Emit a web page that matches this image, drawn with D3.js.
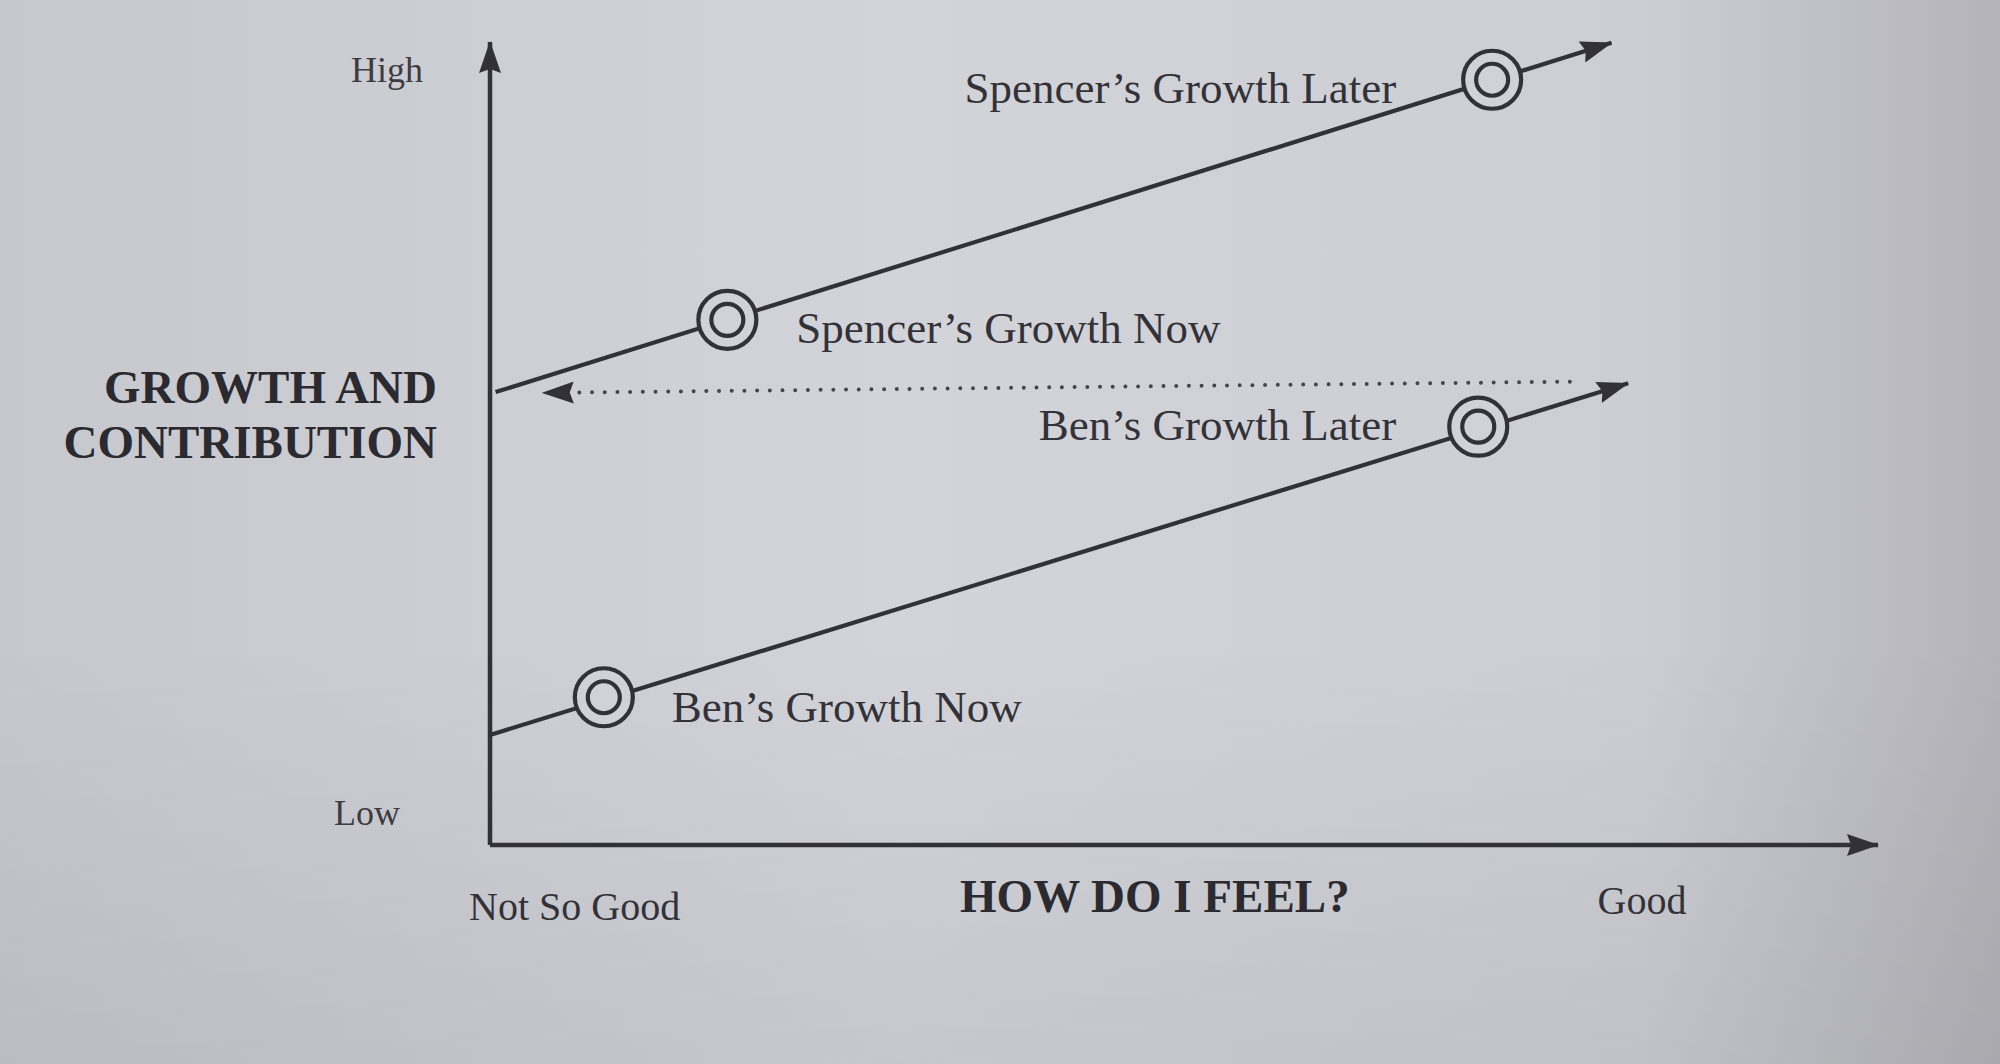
<!DOCTYPE html>
<html lang="en">
<head>
  <meta charset="UTF-8">
  <title>Growth and Contribution</title>
  <script src="https://d3js.org/d3.v7.min.js"></script>
  <style>
    body { margin: 0; background: #cfd0d6; }
    svg { display: block; }
    .ink { fill: #333238; font-family: "Liberation Serif", "Times New Roman", serif; }
    .title { font-weight: bold; fill: #2b2a30; }
  </style>
</head>
<body>
  <svg width="2000" height="1064"></svg>
  <script>
    // axis end labels
    const feelLabels = ["Not So Good", "Good"];
    const growthLabels = ["Low", "High"];
    const xTitle = "HOW DO I FEEL?";
    const yTitle = ["GROWTH AND", "CONTRIBUTION"];

    // lines: [start, arrow tip] in (feel, growth) units 0..10
    const spencerLine = [[0.04, 5.64], [8.08, 9.99]];
    const benLine = [[0, 1.37], [8.2, 5.75]];
    // target markers: [now, later]
    const spencerPoints = [[1.71, 6.54], [7.22, 9.53]];
    const benPoints = [[0.82, 1.84], [7.12, 5.21]];
    const spencerLabels = ["Spencer\u2019s Growth Now", "Spencer\u2019s Growth Later"];
    const benLabels = ["Ben\u2019s Growth Now", "Ben\u2019s Growth Later"];
    // dotted gap arrow, from right to left
    const gapLine = [[7.78, 5.77], [0.38, 5.63]];

    const svg = d3.select("svg");
    const ink = "#323137";
    const paper = "#d1d2d8";

    // paper background, darker toward the right edge
    const defs = svg.append("defs");
    const grad = defs.append("linearGradient").attr("id", "paper");
    grad.append("stop").attr("offset", "0%").attr("stop-color", "#c7c8ce");
    grad.append("stop").attr("offset", "45%").attr("stop-color", "#d3d4da");
    grad.append("stop").attr("offset", "82%").attr("stop-color", "#cdced4");
    grad.append("stop").attr("offset", "100%").attr("stop-color", "#b3b3b9");
    const shade = defs.append("linearGradient").attr("id", "shade")
      .attr("x1", 0).attr("y1", 0).attr("x2", 0).attr("y2", 1);
    shade.append("stop").attr("offset", "60%").attr("stop-color", "#000").attr("stop-opacity", 0);
    shade.append("stop").attr("offset", "100%").attr("stop-color", "#000").attr("stop-opacity", 0.06);

    svg.append("rect").attr("width", 2000).attr("height", 1064).attr("fill", "url(#paper)");
    svg.append("rect").attr("width", 2000).attr("height", 1064).attr("fill", "url(#shade)");

    // arrowhead
    defs.append("marker")
      .attr("id", "head")
      .attr("markerUnits", "userSpaceOnUse")
      .attr("viewBox", "0 0 32 22")
      .attr("refX", 31).attr("refY", 11)
      .attr("markerWidth", 32).attr("markerHeight", 22)
      .attr("orient", "auto")
      .append("path")
      .attr("d", "M0,0 L32,11 L0,22 L4,11 Z")
      .attr("fill", ink);

    const x = d3.scaleLinear().domain([0, 10]).range([490, 1878]);
    const y = d3.scaleLinear().domain([0, 10]).range([845, 42]);
    const line = d3.line().x(d => x(d[0])).y(d => y(d[1]));

    // axes
    svg.append("path")
      .attr("d", line([[0, 0], [0, 10]]))
      .attr("stroke", ink).attr("stroke-width", 4.5).attr("fill", "none")
      .attr("marker-end", "url(#head)");
    svg.append("path")
      .attr("d", line([[0, 0], [10, 0]]))
      .attr("stroke", ink).attr("stroke-width", 4.5).attr("fill", "none")
      .attr("marker-end", "url(#head)");

    // axis end labels
    const g = svg.append("g").attr("class", "ink");
    g.append("text").attr("x", x(0) - 90).attr("y", y(0) - 20)
      .attr("text-anchor", "end").attr("font-size", 36).attr("fill", "#3d3c42")
      .text(growthLabels[0]);
    g.append("text").attr("x", x(0) - 67).attr("y", y(10) + 40)
      .attr("text-anchor", "end").attr("font-size", 36).attr("fill", "#3d3c42")
      .text(growthLabels[1]);
    g.append("text").attr("x", x(0) - 21).attr("y", y(0) + 75)
      .attr("font-size", 40).text(feelLabels[0]);
    g.append("text").attr("x", x(7.98)).attr("y", y(0) + 69)
      .attr("font-size", 40).text(feelLabels[1]);

    // axis titles
    g.append("text").attr("class", "title")
      .attr("x", x(4.79)).attr("y", y(0) + 67)
      .attr("text-anchor", "middle").attr("font-size", 47)
      .text(xTitle);
    g.selectAll(".ytitle").data(yTitle).join("text")
      .attr("class", "title ytitle")
      .attr("x", x(0) - 53).attr("y", (d, i) => 403 + i * 55)
      .attr("text-anchor", "end").attr("font-size", 47)
      .text(d => d);

    // dotted gap arrow
    svg.append("path")
      .attr("d", line(gapLine))
      .attr("stroke", "#46454b").attr("stroke-width", 4)
      .attr("stroke-linecap", "round").attr("stroke-dasharray", "0 12.7")
      .attr("fill", "none")
      .attr("marker-end", "url(#head)");

    // growth lines with target markers
    const series = [
      { line: spencerLine, points: spencerPoints, labels: spencerLabels },
      { line: benLine, points: benPoints, labels: benLabels }
    ];
    // label placement relative to markers: [now, later]
    const labelOffsets = [
      [{ dx: 69, dy: 23, anchor: "start" }, { dx: -96, dy: 23, anchor: "end" }],
      [{ dx: 68, dy: 25, anchor: "start" }, { dx: -82, dy: 13, anchor: "end" }]
    ];

    series.forEach((s, si) => {
      svg.append("path")
        .attr("d", line(s.line))
        .attr("stroke", ink).attr("stroke-width", 4.2)
        .attr("fill", "none")
        .attr("marker-end", "url(#head)");

      const m = svg.append("g").selectAll("g").data(s.points).join("g")
        .attr("transform", d => `translate(${x(d[0])},${y(d[1])})`);
      m.append("circle").attr("r", 29)
        .attr("fill", paper).attr("stroke", ink).attr("stroke-width", 4.2);
      m.append("circle").attr("r", 16)
        .attr("fill", "none").attr("stroke", ink).attr("stroke-width", 4.2);

      g.selectAll(null).data(s.points).join("text")
        .attr("x", (d, i) => x(d[0]) + labelOffsets[si][i].dx)
        .attr("y", (d, i) => y(d[1]) + labelOffsets[si][i].dy)
        .attr("text-anchor", (d, i) => labelOffsets[si][i].anchor)
        .attr("font-size", 45)
        .text((d, i) => s.labels[i]);
    });
  </script>
</body>
</html>
